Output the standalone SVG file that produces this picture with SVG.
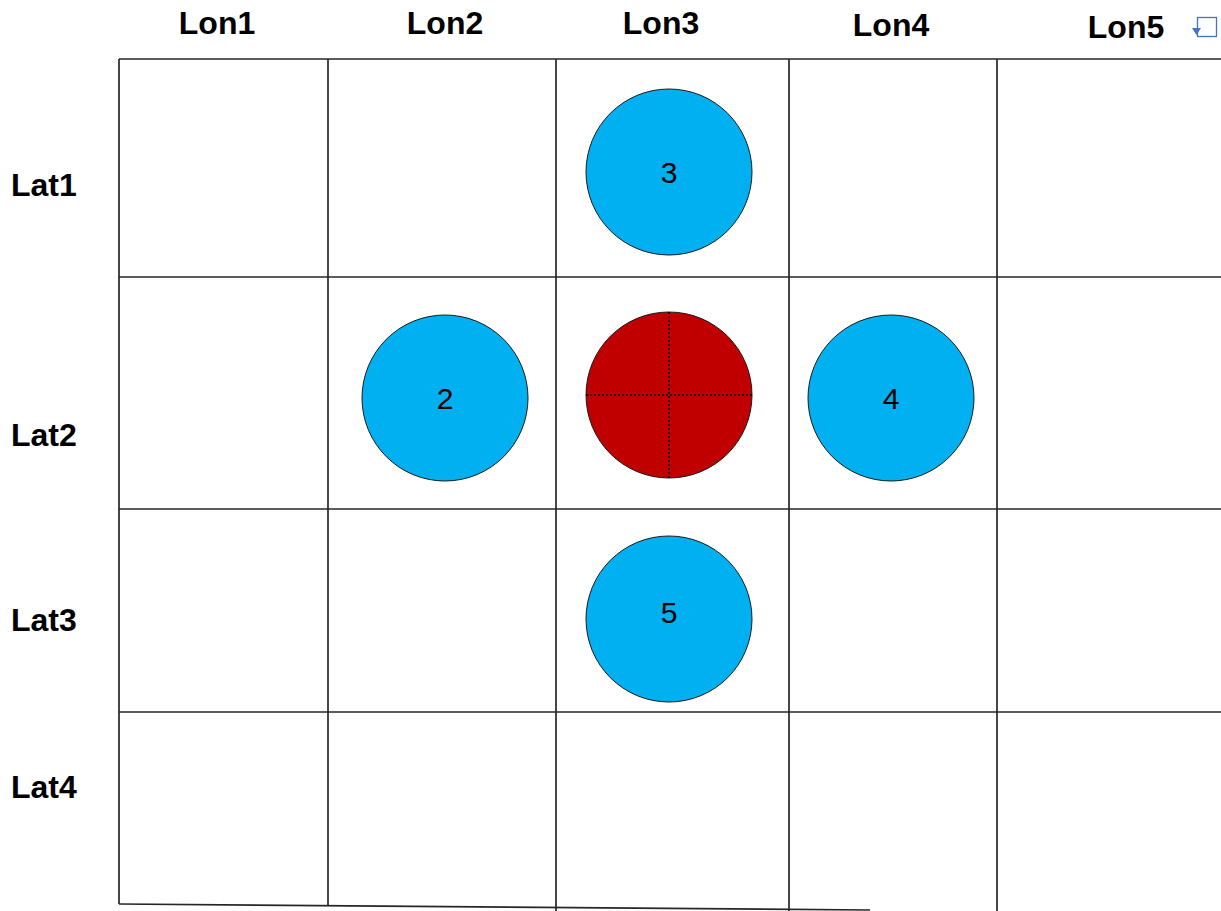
<svg xmlns="http://www.w3.org/2000/svg" width="1221" height="911" viewBox="0 0 1221 911">
<style>
.g{stroke:#262626;stroke-width:1.7;fill:none}
.hdr{font-family:"Liberation Sans",Arial,sans-serif;font-weight:bold;font-size:32px;fill:#000}
.num{font-family:"Liberation Sans",Arial,sans-serif;font-size:30px;fill:#000;text-anchor:middle}
.b{fill:#00B0F0;stroke:#1a1a1a;stroke-width:1}
.r{fill:#C00000;stroke:#1a1a1a;stroke-width:1}
.d{stroke:#000;stroke-width:1.4;stroke-dasharray:2 2;fill:none}
</style>
<rect width="1221" height="911" fill="#fff"/>
<g id="grid">
<line class="g" x1="119" y1="59" x2="1221" y2="59"/>
<line class="g" x1="119" y1="277" x2="1221" y2="277"/>
<line class="g" x1="119" y1="509" x2="1221" y2="509"/>
<line class="g" x1="119" y1="712" x2="1221" y2="712"/>
<line class="g" x1="119" y1="59" x2="119" y2="904"/>
<line class="g" x1="328" y1="59" x2="328" y2="906"/>
<line class="g" x1="556" y1="59" x2="556" y2="911"/>
<line class="g" x1="789" y1="59" x2="789" y2="911"/>
<line class="g" x1="997" y1="59" x2="997" y2="911"/>
<line class="g" x1="119" y1="904" x2="870" y2="910"/>
</g>
<g id="labels">
<text class="hdr" x="217" y="34" text-anchor="middle">Lon1</text>
<text class="hdr" x="445" y="34" text-anchor="middle">Lon2</text>
<text class="hdr" x="661" y="34" text-anchor="middle">Lon3</text>
<text class="hdr" x="891" y="36" text-anchor="middle">Lon4</text>
<text class="hdr" x="1126" y="38" text-anchor="middle">Lon5</text>
<text class="hdr" x="11" y="196">Lat1</text>
<text class="hdr" x="11" y="446">Lat2</text>
<text class="hdr" x="11" y="631">Lat3</text>
<text class="hdr" x="11" y="798">Lat4</text>
</g>
<g id="icon">
<rect x="1197.5" y="17.5" width="19" height="19" fill="#fff" stroke="#4472C4" stroke-width="1.3"/>
<polygon points="1192,28 1201,28 1196.5,35" fill="#4472C4"/>
</g>
<g id="n3"><circle class="b" cx="669" cy="172" r="83"/><text class="num" x="669" y="183">3</text></g>
<g id="n2"><circle class="b" cx="445" cy="398" r="83"/><text class="num" x="445" y="409">2</text></g>
<g id="n1"><circle class="r" cx="669" cy="395" r="83"/><line class="d" x1="586" y1="395" x2="752" y2="395"/><line class="d" x1="669" y1="312" x2="669" y2="478"/></g>
<g id="n4"><circle class="b" cx="891" cy="398" r="83"/><text class="num" x="891" y="409">4</text></g>
<g id="n5"><circle class="b" cx="669" cy="619" r="83"/><text class="num" x="669" y="623">5</text></g>
</svg>
